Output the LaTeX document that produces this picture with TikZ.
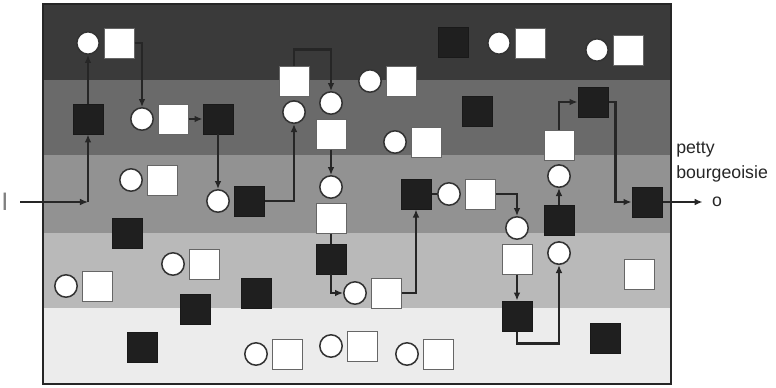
\documentclass[tikz,border=0pt]{standalone}
\usepackage{fontspec}
\usetikzlibrary{positioning}
\usetikzlibrary{arrows.meta}
\newfontfamily\labelfont{Liberation Sans}
\definecolor{bandA}{RGB}{58,58,58}
\definecolor{bandB}{RGB}{106,106,106}
\definecolor{bandC}{RGB}{146,146,146}
\definecolor{bandD}{RGB}{185,185,185}
\definecolor{bandE}{RGB}{236,236,236}

\begin{document}
\begin{tikzpicture}[
    x=0.025cm, y=-0.025cm,
    person/.style={circle, draw=black!80, line width=1.1pt, fill=white, minimum size=0.56cm, inner sep=0pt},
    lightsq/.style={rectangle, draw=black!60, line width=0.7pt, fill=white, minimum size=0.75cm, inner sep=0pt},
    darksq/.style={rectangle, draw=black!90, line width=0.7pt, fill=black!88, minimum size=0.75cm, inner sep=0pt},
    flow/.style={-{Latex[length=0.2cm, width=0.17cm]}, line width=1.5pt, black!85},
    link/.style={line width=1.5pt, black!85},
    lbl/.style={font=\labelfont\fontsize{12.6}{15}\selectfont, inner sep=0pt, text=black!85},
    node distance=0.09cm
]
    \useasboundingbox (0,0) rectangle (776,388);

    % Strata
    \foreach \top/\bot/\col in {4/80/bandA, 80/155/bandB, 155/233/bandC, 233/308/bandD, 308/384/bandE}
        \fill[\col] (43,\top) rectangle (671,\bot);
    \draw[line width=0.065cm, black!85] (43,4) rectangle (671,384);

    % Top stratum
    \node[person] (c1) at (88,43) {};
    \node[lightsq, right=of c1] (s1) {};
    \node[darksq] (k1) at (453,42) {};
    \node[person] (c2) at (499,43) {};
    \node[lightsq, right=of c2] (s2) {};
    \node[person] (c3) at (597,50) {};
    \node[lightsq, right=of c3] (s3) {};
    \node[lightsq] (s4) at (294,81) {};
    \node[person, below=of s4] (c4) {};
    \node[person] (c6) at (370,81) {};
    \node[lightsq, right=of c6] (s6) {};
    \node[person] (c5) at (331,103) {};
    \node[lightsq, below=of c5] (s5) {};

    % Second stratum
    \node[darksq] (k2) at (88,119) {};
    \node[person] (c7) at (142,119) {};
    \node[lightsq, right=of c7] (s7) {};
    \node[darksq] (k3) at (218,119) {};
    \node[person] (c8) at (395,142) {};
    \node[lightsq, right=of c8] (s8) {};
    \node[darksq] (k4) at (477,111) {};
    \node[darksq] (k5) at (593,102) {};
    \node[lightsq] (s9) at (559,145) {};
    \node[person, below=of s9] (c9) {};

    % Third stratum
    \node[person] (c10) at (131,180) {};
    \node[lightsq, right=of c10] (s10) {};
    \node[person] (c11) at (218,201) {};
    \node[darksq, right=of c11] (k6) {};
    \node[person] (c12) at (331,187) {};
    \node[lightsq, below=of c12] (s12) {};
    \node[darksq] (k7) at (331,259) {};
    \node[darksq] (k8) at (416,194) {};
    \node[person] (c13) at (449,194) {};
    \node[lightsq, right=of c13] (s13) {};
    \node[person] (c14) at (517,228) {};
    \node[lightsq, below=of c14] (s14) {};
    \node[darksq] (k9) at (559,220) {};
    \node[person, below=0.14cm of k9] (c15) {};
    \node[darksq] (k10) at (647,202) {};
    \node[darksq] (k11) at (127,233) {};

    % Fourth stratum
    \node[person] (c16) at (66,286) {};
    \node[lightsq, right=of c16] (s16) {};
    \node[person] (c17) at (173,264) {};
    \node[lightsq, right=of c17] (s17) {};
    \node[darksq] (k12) at (195,309) {};
    \node[darksq] (k13) at (256,293) {};
    \node[person] (c18) at (355,293) {};
    \node[lightsq, right=of c18] (s18) {};
    \node[lightsq] (s19) at (639,274) {};
    \node[darksq] (k14) at (517,316) {};

    % Bottom stratum
    \node[darksq] (k15) at (142,347) {};
    \node[person] (c20) at (256,354) {};
    \node[lightsq, right=of c20] (s20) {};
    \node[person] (c21) at (331,346) {};
    \node[lightsq, right=of c21] (s21) {};
    \node[person] (c22) at (407,354) {};
    \node[lightsq, right=of c22] (s22) {};
    \node[darksq] (k16) at (605,338) {};

    % Labels
    \node[lbl, font=\labelfont\fontsize{18}{20}\selectfont, text=black!50] (in) at (5,202) {I};
    \coordinate (turn) at (88,202);
    \node[lbl] (out) at (717,202) {o};
    \node[lbl, anchor=base west] (petty) at (676,153) {petty};
    \node[lbl, anchor=base west] (bourg) at (676,178) {bourgeoisie};

    % Mobility path
    \draw[flow, shorten <=0.28cm] (in) -- (turn);
    \draw[flow] (turn) -- (k2);
    \draw[flow] (k2) -- (c1);
    \draw[flow] (s1.east) -| (c7.north);
    \draw[flow] (s7) -- (k3);
    \draw[flow] (k3) -- (c11);
    \draw[flow] (k6.east) -| (c4.south);
    \draw[flow] (s4.north) -- ++(0,-16) -| (c5.north);
    \draw[flow] (s5) -- (c12);
    \draw[link] (s12) -- (k7);
    \draw[flow] (k7.south) |- (c18.west);
    \draw[flow] (s18.east) -| (k8.south);
    \draw[link] (k8) -- (c13);
    \draw[flow] (s13.east) -| (c14.north);
    \draw[flow] (s14) -- (k14);
    \draw[flow] (k14.south) -- ++(0,12) -| (c15.south);
    \draw[flow] (k9) -- (c9);
    \draw[flow] (s9.north) |- (k5.west);
    \draw[flow] (k5.east) -- ++(7,0) |- (k10.west);
    \draw[flow, shorten >=0.23cm] (k10) -- (out);
\end{tikzpicture}
\end{document}
